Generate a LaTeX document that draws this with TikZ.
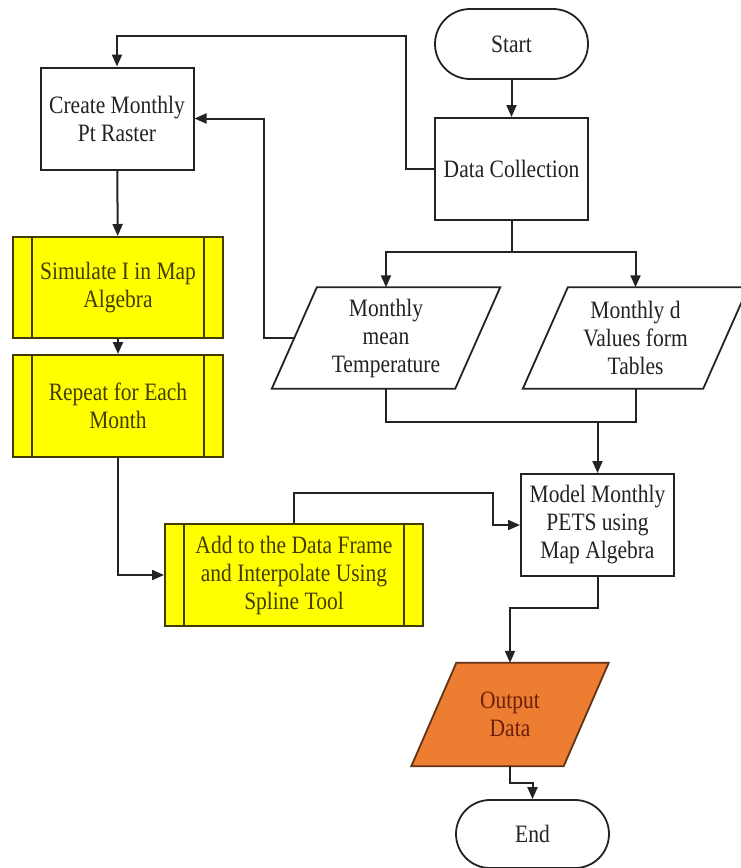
\documentclass[tikz,border=0pt]{standalone}
\usepackage{fontspec}
\setmainfont{Liberation Serif}[FakeStretch=0.86]
\usetikzlibrary{arrows.meta,backgrounds}

\definecolor{linegray}{RGB}{35,35,35}
\definecolor{boxyellow}{RGB}{255,255,0}
\definecolor{subedge}{RGB}{66,60,0}
\definecolor{outorange}{RGB}{237,125,49}
\definecolor{outedge}{RGB}{100,50,20}
\definecolor{outtext}{RGB}{105,32,12}

\begin{document}
\begin{tikzpicture}[x=1pt,y=-1pt,
  font=\fontsize{25}{28}\selectfont,
  base/.style={minimum width=153pt, minimum height=102pt, align=center,
    inner sep=0pt, text=linegray},
  procbox/.style={base, draw=linegray, line width=2pt, fill=white},
  termbox/.style={base, draw=linegray, line width=1.8pt, fill=white,
    rounded corners=35pt, minimum height=70pt},
  subproc/.style={base, draw=subedge, fill=boxyellow, text=subedge,
    line width=2pt,
    path picture={\draw[subedge, line width=1.8pt]
      ([xshift=19pt]path picture bounding box.north west) --
      ([xshift=19pt]path picture bounding box.south west)
      ([xshift=-19pt]path picture bounding box.north east) --
      ([xshift=-19pt]path picture bounding box.south east);}},
  iobox/.style={base, minimum height=101pt},
  link/.style={draw=linegray, line width=2pt},
  flow/.style={link, -{Triangle[length=12pt,width=10pt]}}
]
\useasboundingbox (0,0) rectangle (740,868);
\clip (0,0) rectangle (740,868);

% process steps
\node[termbox] (start) at (511.5,44) {Start};
\node[procbox] (dc) at (511.5,169) {Data Collection};
\node[procbox] (create) at (117,118.5) {Create Monthly\\Pt Raster};
\node[subproc, minimum width=210pt, minimum height=101pt] (sim) at (118,287.5)
  {Simulate I in Map\\Algebra};
\node[subproc, minimum width=210pt] (rep) at (118,406) {Repeat for Each\\Month};
\node[subproc, minimum width=258pt] (add) at (294,575)
  {Add to the Data Frame\\and Interpolate Using\\Spline Tool};
\node[iobox, minimum width=183pt] (temp) at (386,338) {Monthly\\mean\\Temperature};
\node[iobox, minimum width=180pt] (tabl) at (635.5,338) {Monthly d\\Values form\\Tables};
\node[procbox] (model) at (597.5,525) {Model Monthly\\PETS using\\Map Algebra};
\node[iobox, minimum width=152pt, minimum height=103pt, text=outtext] (out)
  at (510,714.5) {Output\\Data};
\node[termbox, minimum height=68pt, rounded corners=34pt] (end) at (532.5,834) {End};

% parallelogram outlines of the data nodes
\begin{scope}[on background layer]
  \foreach \n/\f/\e in {temp/white/linegray, tabl/white/linegray, out/outorange/outedge}
    \draw[line width=1.8pt, draw=\e, fill=\f]
      ([xshift=22.5pt]\n.north west) -- ([xshift=22.5pt]\n.north east) --
      ([xshift=-22.5pt]\n.south east) -- ([xshift=-22.5pt]\n.south west) -- cycle;
\end{scope}

% connectors
\coordinate (split) at (511.5,252);
\coordinate (merge) at (597.5,422);

\draw[flow] (start) -- (dc);
\draw[flow] (dc.west) -- (406,169) -- (406,36) -| (create.north);
\draw[link] (dc.south) -- (split);
\draw[flow] (split) -| (temp.north);
\draw[flow] (split) -| (tabl.north);
\draw[flow] (temp.west) -- (264,338) |- (create.east);
\draw[flow] (create) -- (sim);
\draw[flow] (sim) -- (rep);
\draw[flow] (rep.south) |- (add.west);
\draw[flow] (add.north) -- (294,493) -| (493,525) -- (model.west);
\draw[link] (temp.south) |- (merge);
\draw[link] (tabl.south) |- (merge);
\draw[flow] (merge) -- (model.north);
\draw[flow] (model.south) -- (597.5,608) -| (out.north);
\draw[flow] (out.south) -- (510,783) -| (end.north);
\end{tikzpicture}
\end{document}
